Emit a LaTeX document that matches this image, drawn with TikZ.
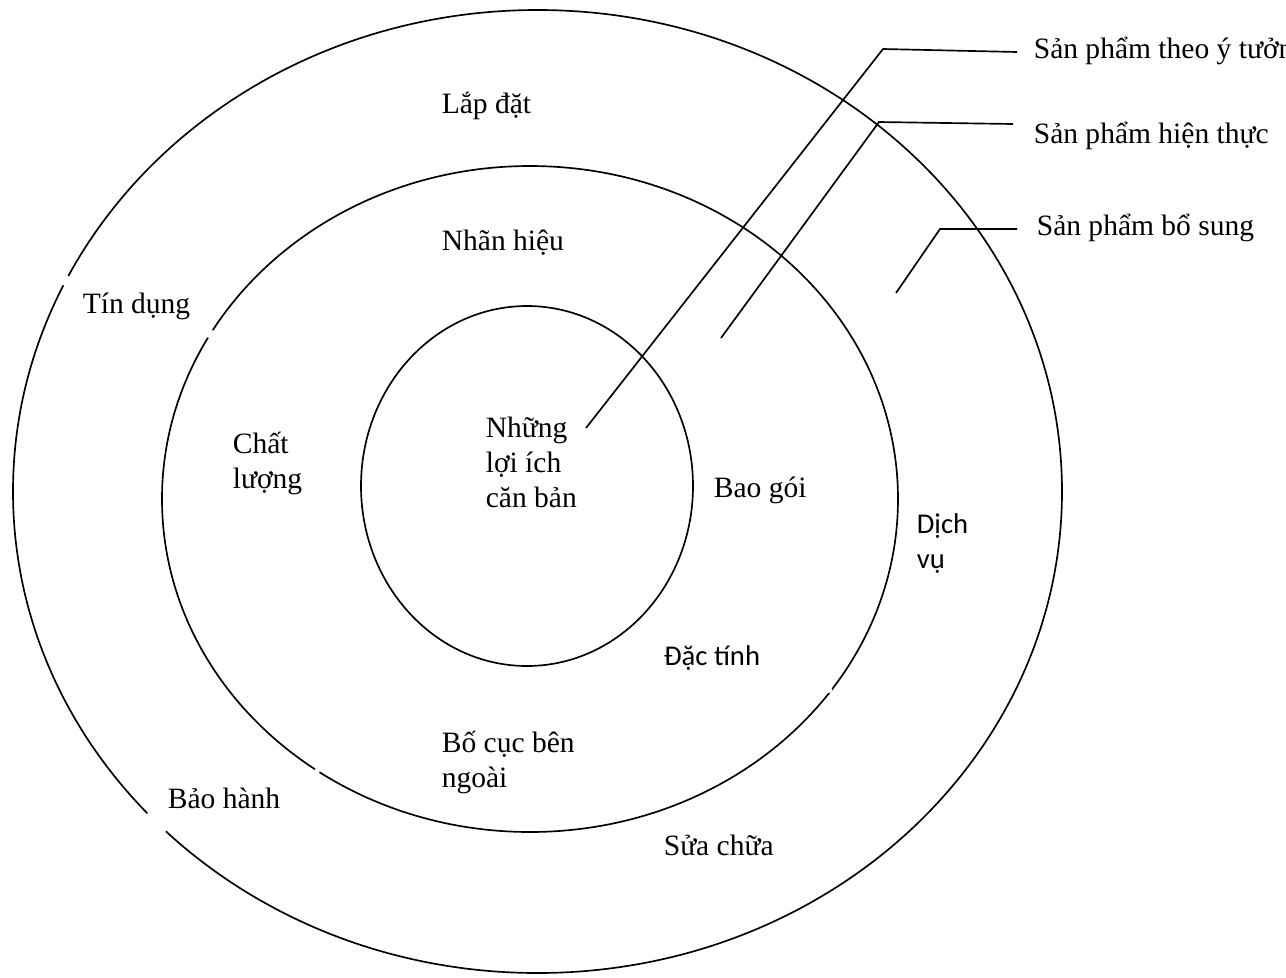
\documentclass[tikz,border=0pt]{standalone}
\usepackage{fontspec}
\setmainfont{Liberation Serif}
\newfontfamily\calibrifont{Carlito}

\begin{document}
\begin{tikzpicture}[x=0.02cm, y=-0.02cm, line width=0.95pt,
    lbl/.style={anchor=base west, inner sep=0pt, align=left, font=\fontsize{16.8}{19.9}\selectfont},
    sanslbl/.style={lbl, font=\calibrifont\fontsize{16.3}{19.9}\selectfont}]
    \useasboundingbox (0,0) rectangle (1286,978);

    % Draw the three rings
    \draw (537.5,491.5) ellipse [x radius=524.5, y radius=481.5];
    \draw (530,499) ellipse [x radius=368, y radius=333];
    \draw (527,486) ellipse [x radius=166, y radius=180];

    % Small breaks in the rings
    \fill[white] (64.5,280) circle [radius=3.2pt];
    \fill[white] (210.5,334) circle [radius=2.6pt];
    \fill[white] (155,824) circle [radius=7.5pt];
    \fill[white] (317,771) circle [radius=1.6pt];
    \fill[white] (829,690) circle [radius=1.8pt];
    \fill[white] (895,496) circle [radius=1pt];

    % Define the points of the leader lines
    \coordinate (idea-start) at (586,428);
    \coordinate (idea-bend) at (883,49);
    \coordinate (idea-end) at (1017,52);

    \coordinate (real-start) at (721,338);
    \coordinate (real-bend) at (879,122);
    \coordinate (real-end) at (1013,124);

    \coordinate (aug-start) at (896,293);
    \coordinate (aug-bend) at (940,229);
    \coordinate (aug-end) at (1017,229);

    % Draw the leader lines
    \draw (idea-start) -- (idea-bend) -- (idea-end);
    \draw (real-start) -- (real-bend) -- (real-end);
    \draw (aug-start) -- (aug-bend) -- (aug-end);

    % Labels of the rings
    \node[lbl] (idea) at (1033,58) {Sản phẩm theo ý tưởng};
    \node[lbl] (real) at (1033,143) {Sản phẩm hiện thực};
    \node[lbl] (aug) at (1036,235) {Sản phẩm bổ sung};

    % Outer ring (multi-line nodes sit on their last line)
    \node[lbl] (lapdat) at (441,113) {Lắp đặt};
    \node[lbl] (tindung) at (82,313) {Tín dụng};
    \node[sanslbl] (dichvu) at (916,568) {Dịch\\vụ};
    \node[lbl] (baohanh) at (167,808) {Bảo hành};
    \node[lbl] (suachua) at (663,855) {Sửa chữa};

    % Middle ring
    \node[lbl] (nhanhieu) at (441,250) {Nhãn hiệu};
    \node[lbl] (chatluong) at (232,488) {Chất\\lượng};
    \node[lbl] (baogoi) at (713,497) {Bao gói};
    \node[sanslbl] (dactinh) at (663,665) {Đặc tính};
    \node[lbl] (bocuc) at (441,787) {Bố cục bên\\ngoài};

    % Core
    \node[lbl] (loiich) at (485,507) {Những\\lợi ích\\căn bản};

\end{tikzpicture}
\end{document}
